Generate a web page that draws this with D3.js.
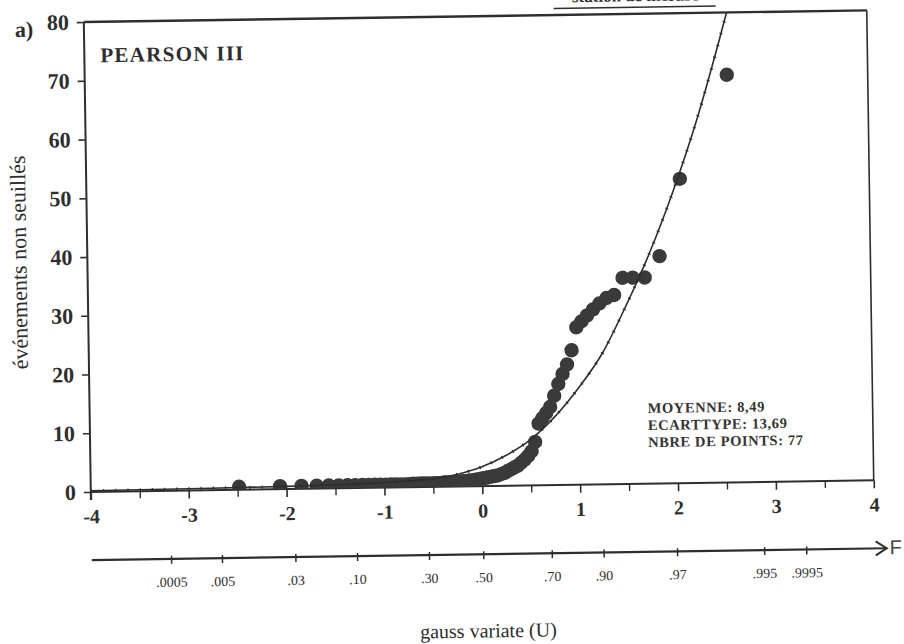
<!DOCTYPE html>
<html><head><meta charset="utf-8">
<script src="https://cdn.jsdelivr.net/npm/d3@7"></script>
<style>body{margin:0;background:#fff} svg{display:block}</style>
</head><body><svg id="c" width="904" height="644"></svg>
<script>
// ---- data ----
const gaussU = [-2.484,-2.065,-1.846,-1.691,-1.568,-1.465,-1.376,-1.297,-1.224,-1.158,-1.097,-1.039,-0.985,-0.933,-0.884,-0.837,-0.792,-0.748,-0.705,-0.664,-0.624,-0.585,-0.547,-0.509,-0.473,-0.437,-0.401,-0.366,-0.331,-0.297,-0.263,-0.230,-0.196,-0.163,-0.130,-0.098,-0.065,-0.033,
  0,
  0.033,0.065,0.098,0.130,0.163,0.196,0.230,0.263,0.297,0.331,0.366,0.401,0.437,0.473,0.509,0.547,0.585,0.624,0.664,0.705,0.748,0.792,0.837,0.884,0.933,0.985,1.039,1.097,1.158,1.224,1.297,1.376,1.465,1.568,1.691,1.846,2.065,2.56];
const events = [0.5,0.5,0.5,0.5,0.5,0.5,0.5,0.5,0.5,0.5,0.5,0.5,0.5,0.5,0.5,0.5,0.5,0.5,0.6,0.6,0.6,0.6,0.6,0.6,0.6,0.6,0.7,0.7,0.7,0.7,0.8,0.8,0.9,0.9,1.0,1.0,1.1,1.2,
  1.3,
  1.4,1.5,1.6,1.7,1.8,2.0,2.2,2.5,2.8,3.1,3.4,3.9,4.4,5.0,5.8,7.4,10.5,11.4,12.3,13.3,15.2,17.2,18.9,20.5,22.9,26.8,27.8,28.8,29.8,30.8,31.7,32.2,35.1,35.1,35.1,38.7,51.8,69.4];
const curveU   = [-4,-3,-2,-1.5,-1,-0.75,-0.5,-0.25,0,0.25,0.5,0.75,1.0,1.25,1.5,1.75,2.0,2.25,2.5,2.65];
const curveVal = [0.2,0.3,0.45,0.6,0.85,1.05,1.4,2.1,3.3,5.2,7.8,11.6,16.5,22.4,30.5,39.5,50.0,62.0,76.0,85.0];
const xTickValues = [-4,-3,-2,-1,0,1,2,3,4];
const xMinorTicks = [-3.5,-2.5,-1.5,-0.5,0.5,1.5,2.5,3.5];
const yTickValues = [0,10,20,30,40,50,60,70,80];
const probLabels = [".0005",".005",".03",".10",".30",".50",".70",".90",".97",".995",".9995"];
const probU = [-3.19,-2.67,-1.92,-1.29,-0.555,0,0.70,1.23,1.98,2.87,3.30];
const statsLines = ["MOYENNE: 8,49","ECARTTYPE: 13,69","NBRE DE POINTS: 77"];

// ---- drawing ----
const W = 904, H = 644;
const serif = '"Liberation Serif","Times New Roman",serif';
const ink = "#2e2e2e";
const svg = d3.select("#c");
svg.append("rect").attr("width", W).attr("height", H).attr("fill", "#fff");
const g = svg.append("g").attr("transform", "rotate(-0.85,450,300)");

const x = d3.scaleLinear().domain([-4, 4]).range([88, 871]);
const y = d3.scaleLinear().domain([0, 80]).range([486.6, 16.6]);

g.append("clipPath").attr("id", "pc").append("rect")
  .attr("x", x(-4)).attr("y", y(80)).attr("width", x(4) - x(-4)).attr("height", y(0) - y(80));

// cut-off title at top
g.append("text").attr("x", 640).attr("y", 4).attr("text-anchor", "middle")
  .attr("font-family", serif).attr("font-weight", "bold").attr("font-size", 17).attr("fill", ink)
  .text("station de mesure");
g.append("line").attr("x1", 558).attr("x2", 720).attr("y1", 10).attr("y2", 10)
  .attr("stroke", ink).attr("stroke-width", 1.5);

// frame
g.append("line").attr("x1", x(-4)).attr("x2", x(4)).attr("y1", y(80)).attr("y2", y(80)).attr("stroke", ink).attr("stroke-width", 2.4);
g.append("line").attr("x1", x(4)).attr("x2", x(4)).attr("y1", y(80)).attr("y2", y(0)).attr("stroke", ink).attr("stroke-width", 1.6);
g.append("line").attr("x1", x(-4)).attr("x2", x(4)).attr("y1", y(0)).attr("y2", y(0)).attr("stroke", ink).attr("stroke-width", 2);
g.append("line").attr("x1", x(-4)).attr("x2", x(-4)).attr("y1", y(80)).attr("y2", y(0) + 8).attr("stroke", ink).attr("stroke-width", 2);

// y axis
const yAxis = d3.axisLeft(y).tickValues(yTickValues).tickSize(7).tickPadding(8).tickFormat(d3.format("d"));
const ya = g.append("g").attr("transform", `translate(${x(-4)},0)`).call(yAxis);
ya.select(".domain").remove();
ya.selectAll("line").attr("stroke", ink).attr("stroke-width", 1.6);
ya.selectAll("text").attr("font-family", serif).attr("font-weight", "bold").attr("font-size", 22).attr("fill", ink);
g.append("text").attr("x", 19).attr("y", y(80) + 14).attr("font-family", serif).attr("font-weight", "bold")
  .attr("font-size", 22).attr("fill", ink).text("a)");

// x axis ticks + labels
const xa = d3.axisBottom(x).tickValues(xTickValues).tickSize(8).tickPadding(9).tickFormat(d3.format("d"));
const xg = g.append("g").attr("transform", `translate(0,${y(0)})`).call(xa);
xg.select(".domain").remove();
xg.selectAll("line").attr("stroke", ink).attr("stroke-width", 1.6);
xg.selectAll("text").attr("font-family", serif).attr("font-weight", "bold").attr("font-size", 20).attr("fill", ink)
  .text(d => d < 0 ? "-" + Math.abs(d) : d);
const xm = d3.axisBottom(x).tickValues(xMinorTicks).tickSize(7).tickFormat("");
const xmg = g.append("g").attr("transform", `translate(0,${y(0)})`).call(xm);
xmg.select(".domain").remove();
xmg.selectAll("line").attr("stroke", ink).attr("stroke-width", 1.4);

// probability (F) axis
const fy = 554.7;
g.append("line").attr("x1", x(-4)).attr("x2", 883).attr("y1", fy).attr("y2", fy).attr("stroke", ink).attr("stroke-width", 2.2);
g.append("path").attr("d", `M872,${fy - 7} L883,${fy} L872,${fy + 7}`).attr("fill", "none").attr("stroke", ink).attr("stroke-width", 2);
g.append("text").attr("x", 886).attr("y", fy + 6).attr("font-family", '"Liberation Sans",Arial,sans-serif')
  .attr("font-size", 20).attr("fill", "#444").text("F");
const pa = d3.axisBottom(x).tickValues(probU).tickSize(8).tickPadding(13).tickFormat((d, i) => probLabels[i]);
const pg = g.append("g").attr("transform", `translate(0,${fy - 3})`).call(pa);
pg.select(".domain").remove();
pg.selectAll("line").attr("stroke", ink).attr("stroke-width", 1.5);
pg.selectAll("text").attr("font-family", serif).attr("font-size", 14).attr("fill", ink);

g.append("text").attr("x", x(0) + 4).attr("y", 638).attr("text-anchor", "middle").attr("font-family", serif)
  .attr("font-size", 20).attr("fill", ink).text("gauss variate (U)");

// y label
g.append("text").attr("transform", "translate(27,256) rotate(-90)").attr("text-anchor", "middle")
  .attr("font-family", serif).attr("font-size", 22).attr("fill", ink).text("événements non seuillés");

// labels inside
g.append("text").attr("x", 104).attr("y", 57).attr("font-family", serif).attr("font-weight", "bold")
  .attr("font-size", 21).attr("letter-spacing", 1.3).attr("fill", ink).text("PEARSON III");
g.append("g").selectAll("text").data(statsLines).join("text")
  .attr("x", 646).attr("y", (d, i) => 416 + i * 17)
  .attr("font-family", serif).attr("font-weight", "bold").attr("font-size", 14.5).attr("letter-spacing", 0.6)
  .attr("fill", "#333").text(d => d);

// points
const plot = g.append("g").attr("clip-path", "url(#pc)");
plot.selectAll("circle").data(gaussU).join("circle")
  .attr("cx", d => x(d)).attr("cy", (d, i) => y(events[i])).attr("r", 7.2).attr("fill", "#3a3a3a");

// fitted curve
const line = d3.line().x(d => x(d[0])).y(d => y(d[1])).curve(d3.curveMonotoneX);
const cdata = curveU.map((u, i) => [u, curveVal[i]]);
plot.append("path").attr("d", line(cdata)).attr("fill", "none").attr("stroke", ink).attr("stroke-width", 1.6);
plot.append("path").attr("d", line(cdata)).attr("fill", "none").attr("stroke", ink).attr("stroke-width", 3.2)
  .attr("stroke-dasharray", "1.2,11");
</script>
</body></html>
